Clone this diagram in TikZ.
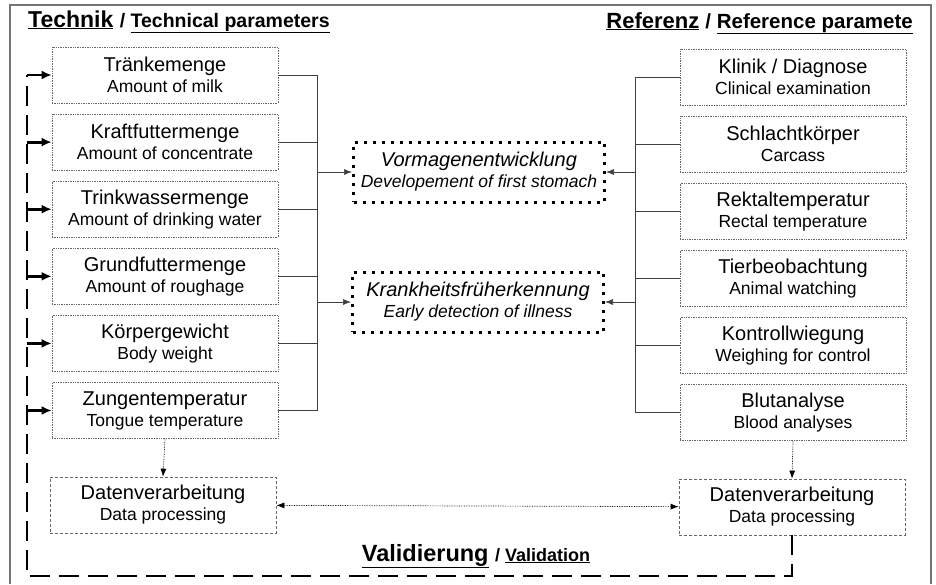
\documentclass[tikz,border=0pt]{standalone}
\usepackage{fontspec}
\setmainfont{Liberation Sans}
\usetikzlibrary{arrows.meta, positioning}

\newcommand{\de}[1]{{\fontsize{20}{21}\selectfont #1}}

\begin{document}
\begin{tikzpicture}[x=1pt, y=-1pt,
        node distance=10.4pt,
        box/.style={draw=black!60, densely dotted, line width=0.7pt, align=center, minimum width=226pt, minimum height=56pt, inner sep=2pt, font=\fontsize{17.5}{21}\selectfont},
        goal/.style={draw, dash pattern=on 3pt off 6pt, line width=3pt, align=center, minimum width=251pt, minimum height=60pt, inner sep=2pt, font=\itshape\fontsize{17.5}{21}\selectfont},
        proc/.style={box, dash pattern=on 3pt off 2pt},
        title/.style={font=\bfseries, inner sep=0pt},
        conn/.style={draw=black!75, line width=0.6pt},
        arrow/.style={conn, -{Latex[length=8pt,width=6pt]}},
        dotarrow/.style={densely dotted, line width=0.7pt, -{Latex[length=8pt,width=6pt]}},
        valid/.style={line width=2.8pt, dash pattern=on 20pt off 9pt},
        validarrow/.style={line width=2.8pt, -{Latex[length=10pt,width=9pt]}}
    ]
    \useasboundingbox (0,0) rectangle (936,584);
    \draw[black!55, line width=1.6pt] (10,584) -- (10,5) -- (931,5) -- (931,584);

    % titles
    \node[title, anchor=base west] (techtitle) at (28,27) {\fontsize{23}{25}\selectfont\underline{Technik} {\fontsize{19.5}{22}\selectfont / \underline{Technical parameters}}};
    \node[title, anchor=base east] (reftitle) at (913,28) {\fontsize{22}{25}\selectfont\underline{Referenz} {\fontsize{20.5}{22}\selectfont / \underline{Reference paramete}}};
    \node[title, anchor=base] (validtitle) at (476,561) {\fontsize{23.5}{25}\selectfont\underline{Validierung} {\fontsize{18}{22}\selectfont / \underline{Validation}}};

    % technical parameters
    \node[box] (milk) at (165,75) {\de{Tränkemenge}\\Amount of milk};
    \node[box, below=of milk] (conc) {\de{Kraftfuttermenge}\\Amount of concentrate};
    \node[box, below=of conc] (water) {\de{Trinkwassermenge}\\Amount of drinking water};
    \node[box, below=of water] (rough) {\de{Grundfuttermenge}\\Amount of roughage};
    \node[box, below=of rough] (weight) {\de{Körpergewicht}\\Body weight};
    \node[box, below=of weight] (tongue) {\de{Zungentemperatur}\\Tongue temperature};

    % reference parameters
    \node[box] (clinic) at (793,77) {\de{Klinik / Diagnose}\\Clinical examination};
    \node[box, below=of clinic] (carcass) {\de{Schlachtkörper}\\Carcass};
    \node[box, below=of carcass] (rectal) {\de{Rektaltemperatur}\\Rectal temperature};
    \node[box, below=of rectal] (watching) {\de{Tierbeobachtung}\\Animal watching};
    \node[box, below=of watching] (control) {\de{Kontrollwiegung}\\Weighing for control};
    \node[box, below=of control] (blood) {\de{Blutanalyse}\\Blood analyses};

    % goals
    \node[goal] (stomach) at (479,172) {\de{Vormagenentwicklung}\\Developement of first stomach};
    \node[goal] (illness) at (478,302) {\de{Krankheitsfrüherkennung}\\Early detection of illness};

    % data processing
    \node[proc] (dpl) at (163,505) {\de{Datenverarbeitung}\\Data processing};
    \node[proc] (dpr) at (792,507) {\de{Datenverarbeitung}\\Data processing};

    % busses
    \coordinate (lbus) at (317,0);
    \coordinate (rbus) at (635,0);
    \foreach \n in {milk,conc,water,rough,weight,tongue}
        \draw[conn] (\n.east) -- (\n.east -| lbus);
    \draw[conn] (milk.east -| lbus) -- (tongue.east -| lbus);
    \foreach \n in {clinic,carcass,rectal,watching,control,blood}
        \draw[conn] (\n.west) -- (\n.west -| rbus);
    \draw[conn] (clinic.west -| rbus) -- (blood.west -| rbus);
    \draw[arrow] (stomach.west -| lbus) -- (stomach.west);
    \draw[arrow] (illness.west -| lbus) -- (illness.west);
    \draw[arrow] (stomach.east -| rbus) -- (stomach.east);
    \draw[arrow] (illness.east -| rbus) -- (illness.east);

    % data flow
    \draw[dotarrow] (tongue.south) -- (dpl.north);
    \draw[dotarrow] (blood.south) -- (dpr.north);
    \draw[dotarrow, {Latex[length=8pt,width=6pt]}-{Latex[length=8pt,width=6pt]}] (dpl) -- (dpr);

    % validation loop
    \coordinate (vcorner) at (27,576);
    \draw[valid] (dpr.south) |- (vcorner) -- (vcorner |- milk.west);
    \foreach \n in {milk,conc,water,rough,weight,tongue}
        \draw[validarrow] (\n.west -| vcorner) -- (\n.west);
\end{tikzpicture}
\end{document}
